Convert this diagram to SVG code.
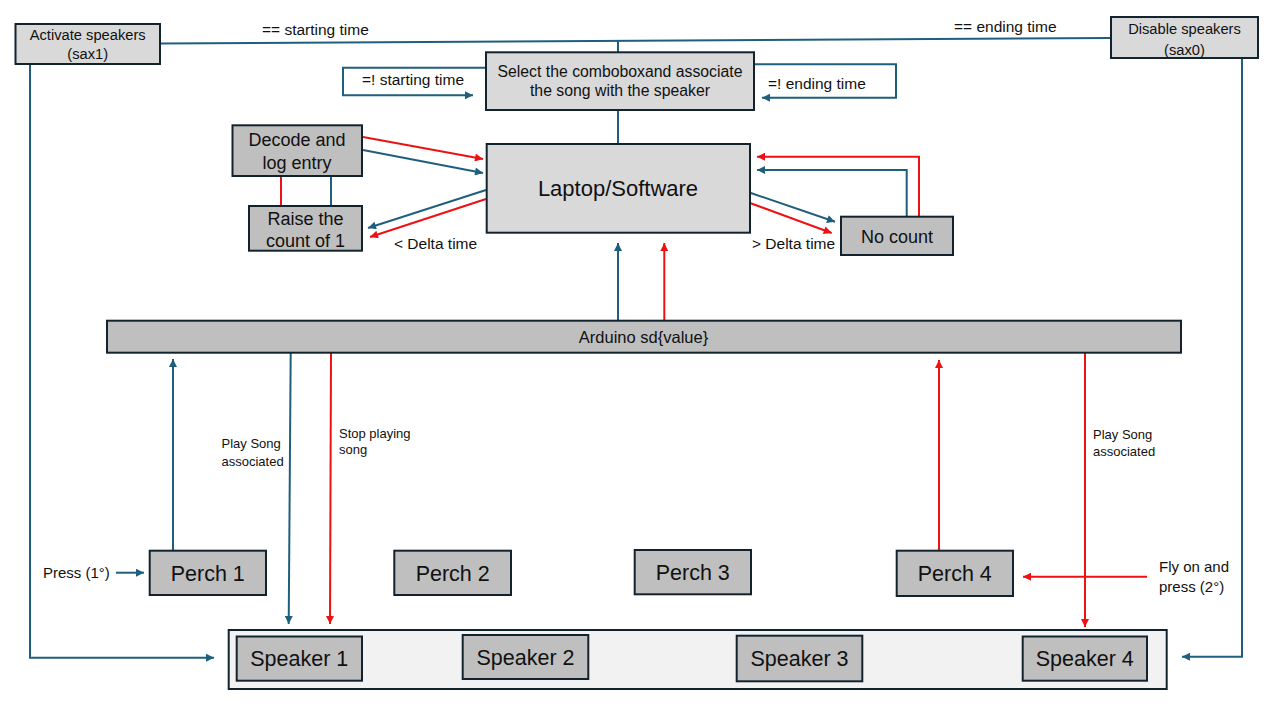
<svg xmlns="http://www.w3.org/2000/svg" width="1280" height="720" viewBox="0 0 1280 720">
<defs>
<style>
text{font-family:"Liberation Sans",Arial,sans-serif;fill:#111;}
.box{stroke:#13232e;stroke-width:2;}
.lt{fill:#d9d9d9;}
.dk{fill:#bfbfbf;}
.ct{fill:#f2f2f2;}
.b{stroke:#1f5f7e;stroke-width:2;fill:none;}
.r{stroke:#ee1111;stroke-width:2;fill:none;}
.ba{marker-end:url(#ab);}
.ra{marker-end:url(#ar);}
.mid{text-anchor:middle;}
</style>
<marker id="ab" viewBox="0 0 10 10" refX="10" refY="5" markerWidth="9" markerHeight="8" markerUnits="userSpaceOnUse" orient="auto"><path d="M0,0 L10,5 L0,10 z" fill="#1f5f7e"/></marker>
<marker id="ar" viewBox="0 0 10 10" refX="10" refY="5" markerWidth="9" markerHeight="8" markerUnits="userSpaceOnUse" orient="auto"><path d="M0,0 L10,5 L0,10 z" fill="#ee1111"/></marker>
</defs>
<rect width="1280" height="720" fill="#ffffff"/>

<g id="connectors">
<path class="b" d="M160,43.5 L1111,38"/>
<path class="b" d="M618,41 V52"/>
<path class="b" d="M618,110 V144"/>
<path class="b ba" d="M485.7,67.7 H343 V95.3 H473"/>
<path class="b ba" d="M754,64.3 H896 V97.7 H762"/>
<path class="r ra" d="M363,137 L483,159"/>
<path class="b ba" d="M363,150 L483,173"/>
<path class="b ba" d="M486,190 L368,228"/>
<path class="r ra" d="M486,199 L370,237"/>
<path class="r" d="M281,176 V206"/>
<path class="b" d="M331,176 V206"/>
<path class="b ba" d="M750,192.7 L835,221.7"/>
<path class="r ra" d="M750,203 L831.7,233"/>
<path class="r ra" d="M919,216.7 V156.7 H757"/>
<path class="b ba" d="M906.7,216.7 V170 H757"/>
<path class="b ba" d="M618,320.7 V243"/>
<path class="r ra" d="M664.3,320.7 V243"/>
<path class="b ba" d="M173,550 V359"/>
<path class="b ba" d="M290.7,352.7 L288.7,624"/>
<path class="r ra" d="M331,352.7 L330,624"/>
<path class="r ra" d="M939,550 V360"/>
<path class="r ra" d="M1085,352.7 V627"/>
<path class="r ra" d="M1147,576.7 H1023"/>
<path class="b ba" d="M116,572.7 H144"/>
<path class="b ba" d="M30,64 V657.7 H214"/>
<path class="b ba" d="M1242,58 V656.7 H1182"/>
</g>

<g id="labels" font-size="15.5">
<text x="262" y="34.5">== starting time</text>
<text x="954" y="32">== ending time</text>
<text x="362" y="84.5">=! starting time</text>
<text x="768" y="88.5">=! ending time</text>
<text x="394" y="249">&lt; Delta time</text>
<text x="752" y="249">&gt; Delta time</text>
<text x="43" y="578" font-size="15">Press (1°)</text>
<text x="1159" y="572" font-size="15">Fly on and</text>
<text x="1159" y="591.5" font-size="15">press (2°)</text>
<text x="221.5" y="447.5" font-size="13">Play Song</text>
<text x="221.5" y="465.5" font-size="13">associated</text>
<text x="339" y="437.5" font-size="13">Stop playing</text>
<text x="339" y="454" font-size="13">song</text>
<text x="1093" y="439" font-size="13">Play Song</text>
<text x="1093" y="456" font-size="13">associated</text>
</g>

<g id="activate">
<rect class="box lt" x="15.5" y="24" width="144.5" height="40"/>
<text class="mid" x="87.7" y="40" font-size="14.7">Activate speakers</text>
<text class="mid" x="87.7" y="59" font-size="14.7">(sax1)</text>
</g>

<g id="disable">
<rect class="box lt" x="1111" y="17" width="147" height="41"/>
<text class="mid" x="1184.5" y="34" font-size="14.7">Disable speakers</text>
<text class="mid" x="1184.5" y="55" font-size="14.7">(sax0)</text>
</g>

<g id="select">
<rect class="box lt" x="486" y="52.3" width="268" height="57.7"/>
<text class="mid" x="620" y="77" font-size="15.8">Select the comboboxand associate</text>
<text class="mid" x="620" y="96" font-size="15.8">the song with the speaker</text>
</g>

<g id="laptop">
<rect class="box lt" x="486.7" y="144" width="263.3" height="88.7"/>
<text class="mid" x="618" y="196" font-size="22">Laptop/Software</text>
</g>

<g id="decode">
<rect class="box dk" x="232.5" y="125.3" width="129.5" height="50.7"/>
<text class="mid" x="297" y="145.5" font-size="18">Decode and</text>
<text class="mid" x="297" y="168.5" font-size="18">log entry</text>
</g>

<g id="raise">
<rect class="box dk" x="249" y="206" width="113" height="44.7"/>
<text class="mid" x="305.5" y="224.5" font-size="18">Raise the</text>
<text class="mid" x="305.5" y="246.5" font-size="18">count of 1</text>
</g>

<g id="nocount">
<rect class="box dk" x="841" y="216.7" width="112" height="38.3"/>
<text class="mid" x="897" y="242.5" font-size="18">No count</text>
</g>

<g id="arduino">
<rect class="box dk" x="107" y="320.7" width="1074" height="32"/>
<text class="mid" x="643.5" y="343" font-size="16.5">Arduino sd{value}</text>
</g>

<g id="perch1">
<rect class="box dk" x="149.7" y="550.7" width="116.3" height="44.3"/>
<text class="mid" x="207.8" y="580.5" font-size="21.5">Perch 1</text>
</g>
<g id="perch2">
<rect class="box dk" x="394.3" y="550.7" width="116.7" height="44.3"/>
<text class="mid" x="452.7" y="580.5" font-size="21.5">Perch 2</text>
</g>
<g id="perch3">
<rect class="box dk" x="634.7" y="550" width="116.3" height="44.3"/>
<text class="mid" x="692.8" y="579.5" font-size="21.5">Perch 3</text>
</g>
<g id="perch4">
<rect class="box dk" x="896.7" y="550.7" width="116.3" height="45.3"/>
<text class="mid" x="954.8" y="581" font-size="21.5">Perch 4</text>
</g>

<g id="speakers">
<rect class="box ct" x="228.7" y="630" width="938" height="59"/>
</g>
<g id="speaker1">
<rect class="box dk" x="236.7" y="636.5" width="125.3" height="44.2"/>
<text class="mid" x="299.3" y="666" font-size="21.5">Speaker 1</text>
</g>
<g id="speaker2">
<rect class="box dk" x="462.7" y="635" width="125.6" height="44"/>
<text class="mid" x="525.5" y="664.5" font-size="21.5">Speaker 2</text>
</g>
<g id="speaker3">
<rect class="box dk" x="736.7" y="635.7" width="125.6" height="45.6"/>
<text class="mid" x="799.5" y="666" font-size="21.5">Speaker 3</text>
</g>
<g id="speaker4">
<rect class="box dk" x="1022.7" y="636.5" width="124.3" height="44.2"/>
<text class="mid" x="1084.8" y="666" font-size="21.5">Speaker 4</text>
</g>
</svg>
